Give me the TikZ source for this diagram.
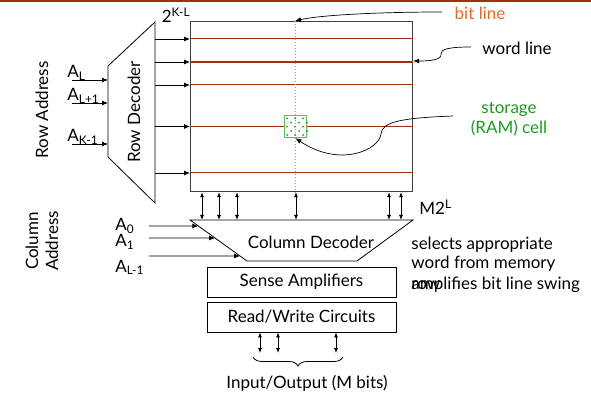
\documentclass[tikz,border=0pt]{standalone}
\usepackage{fontspec}
\setmainfont{Lato}
\usetikzlibrary{calc,arrows.meta,decorations.pathreplacing}
\definecolor{wordred}{RGB}{165,45,20}
\definecolor{bitorange}{RGB}{225,105,45}
\definecolor{celgreen}{RGB}{30,155,30}
\tikzset{
  conn/.style={-{Latex[length=6pt,width=5pt]}},
  bus/.style={{Latex[length=5pt,width=4pt]}-{Latex[length=5pt,width=4pt]}},
  wordline/.style={wordred, line width=1pt},
  blockbox/.style={draw, minimum width=189pt, minimum height=30pt, inner sep=0pt},
}

\begin{document}
\begin{tikzpicture}[x=1pt, y=-1pt, font=\fontsize{17}{20}\selectfont, line width=0.8pt]
\useasboundingbox (0,0) rectangle (591,395);
\fill[wordred] (0,0) rectangle (591,2.5);
% memory array
\node[draw, line width=1.2pt, black!75, minimum width=222pt, minimum height=170pt,
  inner sep=0pt, anchor=north west] (arr) at (190,21) {};
\foreach \y in {39,85,126.5,173}
  \draw[wordline] (arr.west |- 0,\y) -- (arr.east |- 0,\y);
\draw[wordred, line width=2pt] (arr.west |- 0,62) -- (arr.east |- 0,62);
\node[draw=celgreen!70, line width=1.5pt, fill=white, minimum size=22pt, inner sep=0pt] (cell) at (295.5,126.5) {};
\draw[bitorange!80, dotted, line width=1pt] (arr.north -| 295,0) coordinate (bl) -- (arr.south -| 295,0);
\foreach \y in {118.3,126.7,135}
  \foreach \x in {287,295,303}
    \fill[celgreen] (\x,\y) circle (1pt);
\foreach \y in {122.7,131}
  \foreach \x in {291,299,307}
    \fill[celgreen] (\x,\y) circle (1pt);
% row decoder
\coordinate (rd1) at (108,66);
\coordinate (rd2) at (155,22);
\coordinate (rd3) at (155,203);
\coordinate (rd4) at (108,157);
\draw (rd1) -- (rd2) -- (rd3) -- (rd4) -- cycle;
\node[rotate=90] (rdlbl) at (134,112) {Row Decoder};
\foreach \y in {39,62,85,126.5,173}
  \draw[conn] (rd2 |- 0,\y) -- (arr.west |- 0,\y);
\node (kl) at (176,15) {2\textsuperscript{K-L}};
\node[rotate=90] (rowaddr) at (42,110) {Row Address};
\node[anchor=base west, inner sep=0pt] (al) at (67,78) {A\textsubscript{L}};
\node[anchor=base west, inner sep=0pt] (al1) at (67,101) {A\textsubscript{L+1}};
\node[anchor=base west, inner sep=0pt] (ak1) at (67,142) {A\textsubscript{K-1}};
\draw[conn] (72,80) coordinate (al in) -- (rd1 |- 0,80);
\draw[conn] (72,103) coordinate (al1 in) -- (rd1 |- 0,103);
\draw[conn] (72,144) coordinate (ak1 in) -- (rd1 |- 0,144);
% column decoder
\coordinate (cd1) at (190,220);
\coordinate (cd2) at (413,220);
\coordinate (cd3) at (357,261);
\coordinate (cd4) at (247,261);
\draw (cd1) -- (cd2) -- (cd3) -- (cd4) -- cycle;
\node (cdlbl) at (311,242) {Column Decoder};
\foreach \x in {202,219,237,296,389,401}
  \draw[bus] (arr.south -| \x,0) -- (cd1 -| \x,0);
\node[anchor=base west, inner sep=0pt] (a0) at (115,231) {A\textsubscript{0}};
\node[anchor=base west, inner sep=0pt] (a1) at (115,247) {A\textsubscript{1}};
\node[anchor=base west, inner sep=0pt] (alm1) at (115,272) {A\textsubscript{L-1}};
\draw[conn] (149,226) coordinate (a0 in) -- ($(cd1)!6/41!(cd4)$);
\draw[conn] (149,238) coordinate (a1 in) -- ($(cd1)!18/41!(cd4)$);
\draw[conn] (149,256) coordinate (alm1 in) -- ($(cd1)!36/41!(cd4)$);
\node[rotate=90, align=center] (coladdr) at (42,241) {Column\\Address};
\node[anchor=base west, inner sep=0pt] (m2l) at (419,215) {M2\textsuperscript{L}};
% sense amps and read/write
\node[blockbox] (sense) at (301.5,282) {Sense Amplifiers};
\node[blockbox] (rw) at (301.5,317) {Read/Write Circuits};
\foreach \x in {260,278,336}
  \draw[bus] (rw.south -| \x,0) -- (\x,353);
\draw[decorate, decoration={brace, amplitude=9pt}] (343,357) -- (253,357);
\node (io) at (307,383) {Input/Output (M bits)};
\node[anchor=base west, inner sep=0pt] (sel1) at (411,249) {selects appropriate};
\node[anchor=base west, inner sep=0pt] (sel2) at (411,269) {word from memory};
\node[anchor=base west, inner sep=0pt] (sel3) at (411,289) {row};
\node[anchor=base west, inner sep=0pt] (amp) at (411,289) {amplifies bit line swing};
% callouts
\node[bitorange] (bitlbl) at (480,13) {bit line};
\node (wordlbl) at (517,48) {word line};
\node[celgreen, align=center] (celllbl) at (509,119) {storage\\(RAM) cell};
\draw[conn, line width=0.7pt] (442,12) .. controls (380,12) and (320,15) .. (bl);
\draw[conn, line width=0.7pt] (471,47) .. controls (450,47) and (440,49) .. (441,54)
  .. controls (442,60) and (430,61) .. (arr.east |- 0,61);
\draw[conn, line width=0.7pt] (453,116) .. controls (400,118) and (382,122) .. (381,134)
  .. controls (379,150) and (340,168) .. (cell.south);
\end{tikzpicture}
\end{document}
